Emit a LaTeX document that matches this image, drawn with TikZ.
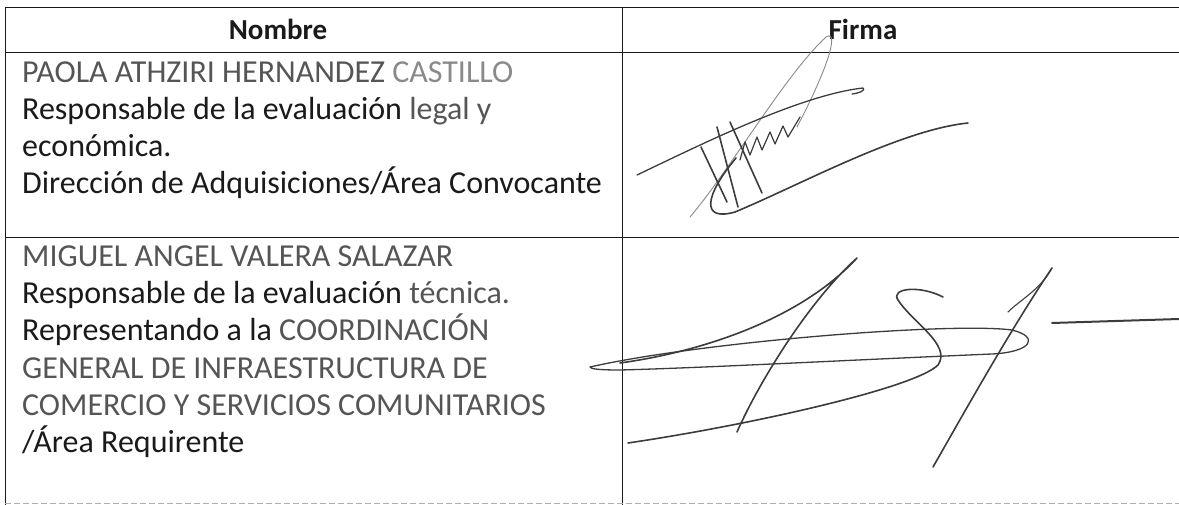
\documentclass[tikz,border=0pt]{standalone}
\usepackage{fontspec}
\setmainfont{Carlito}
\usetikzlibrary{positioning}
\definecolor{ink}{HTML}{1A1A1A}
\definecolor{greyink}{HTML}{555555}
\definecolor{paleink}{HTML}{8A8A8A}
\definecolor{pen}{HTML}{3C3C3C}

\begin{document}
\begin{tikzpicture}[x=1pt,y=-1pt,
    cell/.style={anchor=base west,inner sep=0pt,text=ink,font=\fontsize{32}{37}\selectfont},
    head/.style={anchor=base,inner sep=0pt,text=ink,font=\fontsize{29}{35}\selectfont\bfseries},
    rule/.style={line width=1pt,draw=ink},
    stroke/.style={draw=pen,line width=1.6pt,line cap=round,line join=round},
    thin stroke/.style={draw=paleink,line width=0.9pt,line cap=round}]

    \useasboundingbox (0,0) rectangle (1179,505);

    % table rules
    \draw[rule] (5,8) -- (1179,8);
    \draw[rule] (5,53) -- (1179,53);
    \draw[rule] (5,238) -- (1179,238);
    \draw[rule] (5,8) -- (5,505);
    \draw[rule] (622,8) -- (622,505);
    \draw[draw=paleink!70,line width=0.8pt,dash pattern=on 6pt off 3pt] (5,503) -- (1179,503);

    % header
    \node[head] (nombre) at (278,40) {Nombre};
    \node[head] (firma) at (863,40) {Firma};

    % first row
    \node[cell] (paola) at (22,83) {\textcolor{greyink}{PAOLA ATHZIRI HERNANDEZ} \textcolor{paleink}{CASTILLO}};
    \node[cell] (legal) at (22,120) {Responsable de la evaluación \textcolor{greyink}{legal y}};
    \node[cell] (econ) at (22,157) {económica.};
    \node[cell] (dir) at (22,194) {Dirección de Adquisiciones/Área Convocante};

    % second row
    \node[cell,text=greyink] (miguel) at (22,267) {MIGUEL ANGEL VALERA SALAZAR};
    \node[cell] (tecnica) at (22,304) {Responsable de la evaluación \textcolor{greyink}{técnica.}};
    \node[cell] (repr) at (22,341) {Representando a la \textcolor{greyink}{COORDINACIÓN}};
    \node[cell,text=greyink] (general) at (22,378) {GENERAL DE INFRAESTRUCTURA DE};
    \node[cell,text=greyink] (comercio) at (22,415) {COMERCIO Y SERVICIOS COMUNITARIOS};
    \node[cell] (area) at (22,452) {/Área Requirente};

    % first signature
    \draw[thin stroke] (690,217) .. controls (730,170) and (785,75) .. (826,37)
        .. controls (838,30) and (832,60) .. (797,127);
    \draw[stroke,line width=1.3pt] (637,175) .. controls (700,145) and (800,95) .. (863,88)
        .. controls (866,90) and (860,93) .. (852,94);
    \draw[stroke] (736,158) .. controls (705,195) and (700,222) .. (735,212)
        .. controls (800,185) and (900,130) .. (968,123);
    \draw[stroke] (717,127) -- (738,207);
    \draw[stroke] (730,122) -- (762,193);
    \draw[stroke] (701,147) -- (727,202);
    \draw[stroke,line width=1.2pt] (740,160) -- (745,142) -- (750,155) -- (757,137) -- (762,150)
        -- (770,132) -- (775,144) -- (783,126) -- (788,137) -- (800,117);

    % second signature
    \draw[stroke] (620,363) .. controls (700,352) and (800,320) .. (857,258)
        .. controls (810,300) and (760,380) .. (737,432);
    \draw[stroke,line width=1.3pt] (590,367) .. controls (700,342) and (950,322) .. (1012,330)
        .. controls (1040,337) and (1032,352) .. (992,354)
        .. controls (850,360) and (700,368) .. (620,370)
        .. controls (600,370) and (590,369) .. (590,367);
    \draw[stroke] (943,297) .. controls (920,285) and (890,288) .. (898,300)
        .. controls (912,322) and (952,345) .. (938,365)
        .. controls (915,388) and (750,425) .. (628,443);
    \draw[stroke] (1052,268) .. controls (1010,330) and (960,420) .. (933,467);
    \draw[stroke,line width=1.1pt] (1052,268) .. controls (1040,290) and (1020,300) .. (1008,312);
    \draw[stroke,line width=2pt] (1052,323) -- (1179,319);
\end{tikzpicture}
\end{document}
